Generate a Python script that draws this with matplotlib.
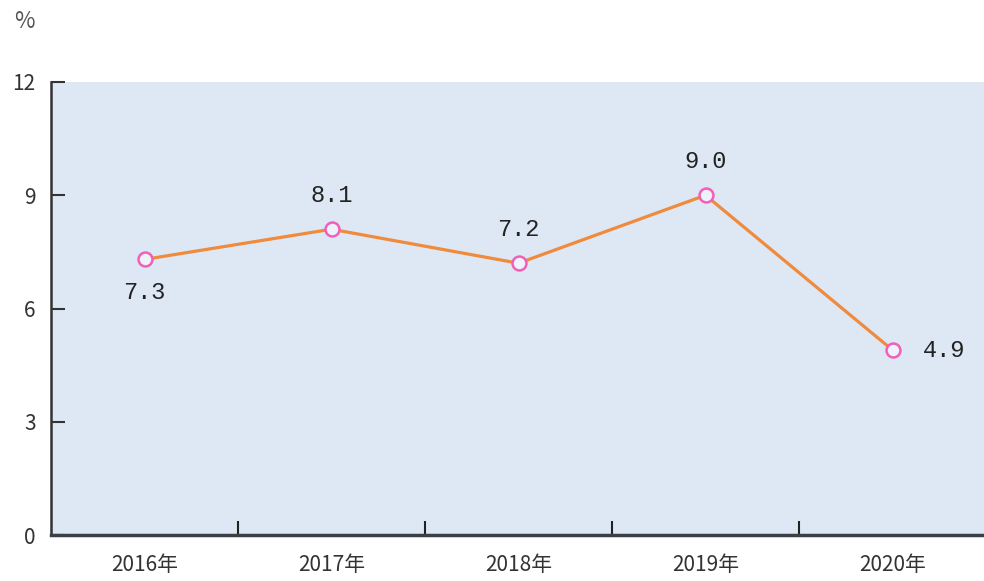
import matplotlib.pyplot as plt

plt.rcParams['font.family'] = ['Noto Sans CJK SC', 'DejaVu Sans']

years = ['2016年', '2017年', '2018年', '2019年', '2020年']
values = [7.3, 8.1, 7.2, 9.0, 4.9]
label_text = ['7.3', '8.1', '7.2', '9.0', '4.9']
# where each value label sits relative to its point
label_pos = ['below', 'above', 'above', 'above', 'right']
yticks = [0, 3, 6, 9, 12]

fig = plt.figure(figsize=(9.84, 5.81), dpi=100)
ax = fig.add_axes([51 / 984, 46 / 581, 935 / 984, 453 / 581])
ax.set_facecolor('#dde8f4')

x = list(range(len(values)))
ax.plot(x, values, color='#f08a3c', linewidth=2.3, zorder=2)
ax.plot(x, values, linestyle='none', marker='o', markersize=10,
        markerfacecolor='#eef2fa', markeredgecolor='#f060b8',
        markeredgewidth=1.8, zorder=3)

offsets = {'below': (0, -24, 'center'), 'above': (0, 24, 'center'),
           'right': (22, 0, 'left')}
for xi, v, txt, pos in zip(x, values, label_text, label_pos):
    dx, dy, ha = offsets[pos]
    ax.annotate(txt, (xi, v), xytext=(dx, dy), textcoords='offset points',
                ha=ha, va='center', fontsize=17, family='Liberation Mono',
                color='#222222')

ax.set_xlim(-0.5, 4.5)
ax.set_ylim(0, 12)
ax.set_yticks(yticks)
ax.set_yticklabels([str(t) for t in yticks], fontsize=15, color='#333333')
ax.set_xticks([i + 0.5 for i in range(4)])
ax.set_xticklabels([])
ax.set_xticks(x, minor=True)
ax.set_xticklabels(years, minor=True, fontsize=15, color='#333333')
ax.tick_params(axis='x', which='minor', length=0, pad=14)
ax.tick_params(axis='x', which='major', direction='in', length=10, width=1.5,
               color='#222222')
ax.tick_params(axis='y', direction='in', length=10, width=1.5,
               color='#333333', pad=11)

for side in ['top', 'right']:
    ax.spines[side].set_visible(False)
ax.spines['left'].set_linewidth(1.8)
ax.spines['left'].set_color('#333333')
ax.spines['bottom'].set_linewidth(2.5)
ax.spines['bottom'].set_color('#3a4048')

fig.text(14 / 984, 1 - 22 / 581, '%', fontsize=16, color='#555555',
         ha='left', va='center')

fig.savefig('out.png', dpi=100)
